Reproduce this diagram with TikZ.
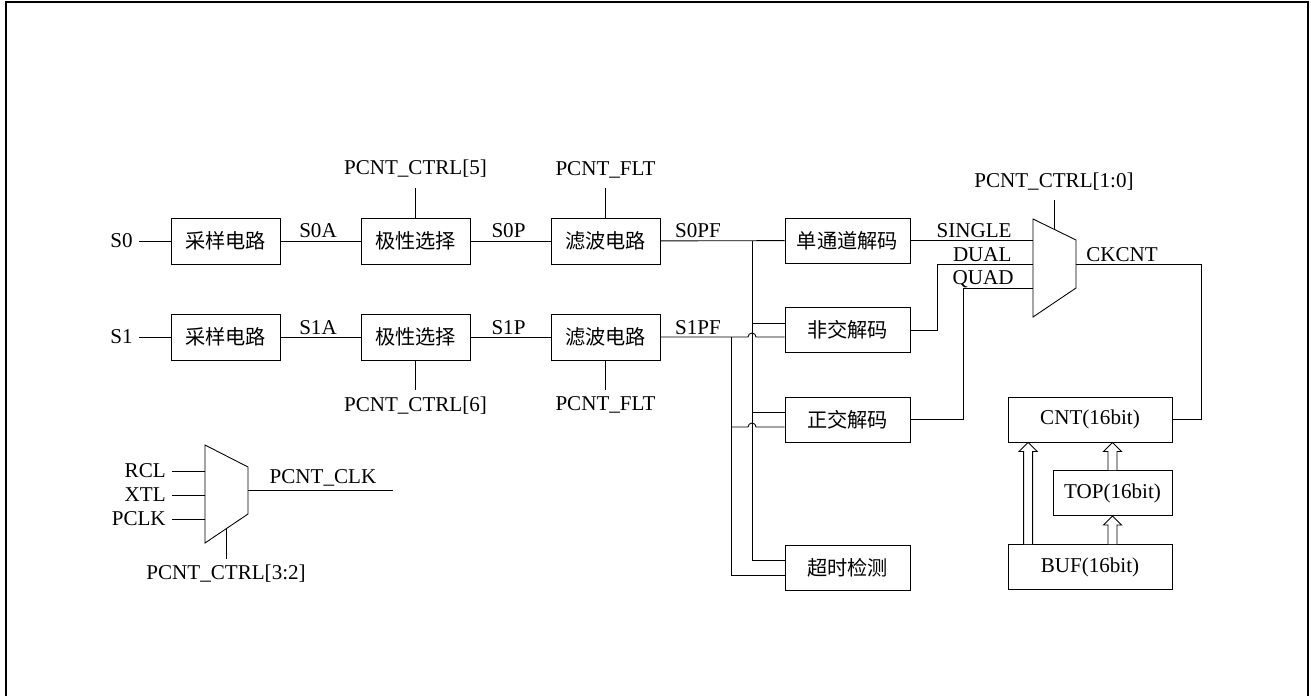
\documentclass[tikz,border=0pt]{standalone}
\usepackage{fontspec}
\setmainfont{Liberation Serif}
\newfontfamily\cjk{Noto Sans CJK SC}
\usetikzlibrary{calc}
\tikzstyle{block} = [rectangle, draw, line width=0.5pt, minimum width=2.18cm, minimum height=0.92cm,
                     inner sep=0pt, font=\cjk\fontsize{11.5}{13}\selectfont]
\tikzstyle{decoder} = [block, minimum width=2.5cm, minimum height=0.9cm]
\tikzstyle{register} = [block, minimum width=3.28cm, minimum height=0.9cm, font=\fontsize{12}{14}\selectfont]
\tikzstyle{signal} = [inner sep=0pt, anchor=base]
\tikzstyle{frame} = [line width=1.1pt]
% hollow double-line arrow from #1 up to #2
\newcommand{\hollowarrow}[2]{%
  \draw[fill=white] ($#1+(-4.5,0)$) -- ($#2+(-4.5,9)$) -- ($#2+(-9,9)$) -- #2
    -- ($#2+(9,9)$) -- ($#2+(4.5,9)$) -- ($#1+(4.5,0)$);}

\begin{document}
\begin{tikzpicture}[x=0.02cm, y=-0.02cm, line width=0.5pt, font=\fontsize{12}{14}\selectfont]

\path[fill=white, use as bounding box] (0,0) rectangle (1311,696);
\draw[frame] (6,696) -- (6,2) -- (1308,2) -- (1308,696);

% Channel S0
\node[anchor=east] (s0) at (139,241) {S0};
\node[block] (smp0) at (225.5,241) {采样电路};
\node[block] (pol0) at (415.5,241) {极性选择};
\node[block] (flt0) at (605.5,241) {滤波电路};

% Channel S1
\node[anchor=east] (s1) at (139,337) {S1};
\node[block] (smp1) at (225.5,337) {采样电路};
\node[block] (pol1) at (415.5,337) {极性选择};
\node[block] (flt1) at (605.5,337) {滤波电路};

% Decoders
\node[decoder] (dec1) at (847.5,240.5) {单通道解码};
\node[decoder] (dec2) at (847.5,330) {非交解码};
\node[decoder] (dec3) at (847.5,419.5) {正交解码};
\node[decoder] (dec4) at (847.5,567.5) {超时检测};

% Counter registers
\node[register] (cnt) at (1090,419.5) {CNT(16bit)};
\node[register, minimum width=2.38cm] (top) at (1112.5,493) {TOP(16bit)};
\node[register] (buf) at (1090,567) {BUF(16bit)};

% Arrows S0
\draw (s0.east) -- (smp0.west);
\draw (smp0) -- (pol0);
\draw (pol0) -- (flt0);
\node[signal] (s0a) at (318,237) {S0A};
\node[signal] (s0p) at (508.5,237) {S0P};
\draw (pol0.north) -- ++(0,-30) node[above=2pt] (ctl5) {PCNT\_CTRL[5]};
\draw (flt0.north) -- ++(0,-30) node[above=2pt] (flt0c) {PCNT\_FLT};

% Arrows S1
\draw (s1.east) -- (smp1.west);
\draw (smp1) -- (pol1);
\draw (pol1) -- (flt1);
\node[signal] (s1a) at (318,334) {S1A};
\node[signal] (s1p) at (508.5,334) {S1P};
\draw (pol1.south) -- ++(0,30) node[below] (ctl6) {PCNT\_CTRL[6]};
\draw (flt1.south) -- ++(0,30) node[below] (flt1c) {PCNT\_FLT};

% Filtered signals to decoders
\coordinate (b0) at (752,241);
\coordinate (b1) at (731,337);
\coordinate (d2a) at ($(dec2.west)+(0,-7)$);
\coordinate (d2b) at ($(dec2.west)+(0,7)$);
\coordinate (d3a) at ($(dec3.west)+(0,-7.5)$);
\coordinate (d3b) at ($(dec3.west)+(0,7.5)$);
\coordinate (d4a) at ($(dec4.west)+(0,-7.5)$);
\coordinate (d4b) at ($(dec4.west)+(0,7.5)$);

\draw (flt0) -- (dec1);
\node[signal] (s0pf) at (698,237) {S0PF};
\draw (b0) |- (d4a);
\draw (b0 |- d2a) -- (d2a);
\draw (b0 |- d3a) -- (d3a);

\draw (flt1.east) -- ($(b0 |- d2b)+(-4,0)$) arc (180:360:4) -- (d2b);
\node[signal] (s1pf) at (698,334) {S1PF};
\draw (b1) |- (d4b);
\draw (b1 |- d3b) -- ($(b0 |- d3b)+(-4,0)$) arc (180:360:4) -- (d3b);

% Count source mux
\draw (1033,219) coordinate (cmnw) -- (1076,240) coordinate (cmne)
   -- (1076,288) coordinate (cmse) -- (1033,317) coordinate (cmsw) -- cycle;
\coordinate (cmsel) at ($(cmnw)!0.488!(cmne)$);
\coordinate (cmout) at ($(cmne)!0.5!(cmse)$);
\coordinate (dualin) at (1033,264);
\coordinate (quadin) at (1033,288);
\draw (cmsel) -- ++(0,-29.3) node[above=2pt] (ctl10) {PCNT\_CTRL[1:0]};

\draw (dec1.east) -- (dec1.east -| cmnw);
\draw (dec2.east) -| ($(dualin)+(-96,0)$) -- (dualin);
\draw (dec3.east) -| ($(quadin)+(-70,0)$) -- (quadin);
\node[signal, anchor=base east] (lsingle) at (1012,237) {SINGLE};
\node[signal, anchor=base east] (ldual) at (1012,261) {DUAL};
\node[signal, anchor=base east] (lquad) at (1014,284) {QUAD};

\draw (cmout) -- ++(125,0) |- (cnt.east);
\node[signal] (lckcnt) at (1122,261) {CKCNT};

% Register transfers
\coordinate (bl) at ($(buf.north west)+(20.5,0)$);
\coordinate (cl) at ($(cnt.south west)+(20.5,0)$);
\hollowarrow{(bl)}{(cl)}
\hollowarrow{(top.north)}{(top.north |- cnt.south)}
\hollowarrow{(buf.north -| top.north)}{(top.south)}

% Clock select mux
\draw (205,445) coordinate (kmnw) -- (248,467) coordinate (kmne)
   -- (248,514) coordinate (kmse) -- (205,543) coordinate (kmsw) -- cycle;
\coordinate (kmout) at ($(kmne)!0.5!(kmse)$);
\coordinate (kmsel) at ($(kmsw)!0.49!(kmse)$);
\node[anchor=east] (rcl) at (172,471) {RCL};
\node[anchor=east] (xtl) at (172,495) {XTL};
\node[anchor=east] (pclk) at (172,519) {PCLK};
\draw (rcl) -- (rcl -| kmnw);
\draw (xtl) -- (xtl -| kmnw);
\draw (pclk) -- (pclk -| kmnw);
\draw (kmout) -- ++(145,0) coordinate (kmend);
\node[signal] (lpclk) at (323,483) {PCNT\_CLK};
\draw (kmsel) -- ++(0,30.2) node[below] (ctl32) {PCNT\_CTRL[3:2]};

\end{tikzpicture}
\end{document}
